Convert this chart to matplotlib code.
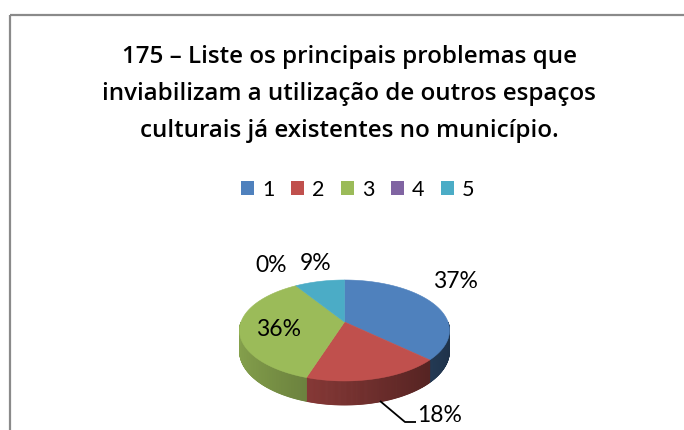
import numpy as np
import matplotlib
matplotlib.use("Agg")
import matplotlib.pyplot as plt
from matplotlib.patches import Polygon, Rectangle
from matplotlib.colors import to_rgb

# ---- data ----
categories = ["1", "2", "3", "4", "5"]
values = [37, 18, 36, 0, 9]
title_lines = ["175 \u2013 Liste os principais problemas que",
               "inviabilizam a utilização de outros espaços",
               "culturais já existentes no município."]
colors = ["#4F81BD", "#C0504D", "#9BBB59", "#8064A2", "#4BACC6"]

# ---- layout (pixel coordinates) ----
W, H = 684, 430
CX, C0 = 344.5, 322.0     # apex of pie
R, A = 103.5, 49.06       # horizontal radius, vertical extent
K = 0.168                 # perspective factor
DEPTH = 20.0
label_pos = [(455, 282), (440, 415), (279, 330), (271, 266), (316, 263)]

fig = plt.figure(figsize=(W / 100, H / 100), dpi=100)
ax = fig.add_axes([0, 0, 1, 1])
ax.set_xlim(0, W)
ax.set_ylim(H, 0)
ax.axis("off")

# chart frame
ax.add_patch(Rectangle((10, 15), 720, 460, fill=False, edgecolor="#8a8a8a", lw=1.6))

# title
title_font = dict(family=["Open Sans", "DejaVu Sans"], fontweight="semibold", fontsize=17.4, color="#000000")
for i, line in enumerate(title_lines):
    ax.text(349, 63 + 37 * i, line, ha="center", va="baseline", **title_font)

# legend
leg_x = [241, 291, 341, 391, 441]
for cat, col, lx in zip(categories, colors, leg_x):
    ax.add_patch(Rectangle((lx, 181), 13, 14, facecolor=col, edgecolor="none"))
    ax.text(lx + 21, 196, cat, ha="left", va="baseline", fontsize=15.5,
            family=["Lato", "DejaVu Sans"], color="#000000")


def proj(theta_deg, r=1.0, down=0.0):
    t = np.radians(theta_deg)
    s = 1.0 / (1.0 + K * np.cos(t))
    x = CX + R * r * np.sin(t) * s
    y = C0 - A * r * np.cos(t) * s + down * s
    return x, y


total = float(sum(values))
bounds = np.concatenate([[0], np.cumsum(values) / total * 360.0])

# side walls (front half: 90..270 deg)
for i, col in enumerate(colors):
    a0, a1 = bounds[i], bounds[i + 1]
    lo, hi = max(a0, 90), min(a1, 270)
    if hi <= lo:
        continue
    base = np.array(to_rgb(col))
    ts = np.linspace(lo, hi, max(2, int((hi - lo) * 2) + 1))
    for t0, t1 in zip(ts[:-1], ts[1:]):
        tm = 0.5 * (t0 + t1)
        f = 0.62 - 0.24 * np.sin(np.radians(tm))
        c = np.clip(base * f, 0, 1)
        xa, ya = proj(t0)
        xb, yb = proj(t1)
        xc, yc = proj(t1, down=DEPTH)
        xd, yd = proj(t0, down=DEPTH)
        ax.add_patch(Polygon([(xa, ya), (xb, yb), (xc, yc), (xd, yd)],
                             closed=True, facecolor=c, edgecolor=c, lw=0.6))

# top faces
for i, col in enumerate(colors):
    a0, a1 = bounds[i], bounds[i + 1]
    if a1 - a0 <= 0:
        continue
    ts = np.linspace(a0, a1, max(3, int(a1 - a0) + 2))
    xs, ys = proj(ts)
    pts = [(CX, C0)] + list(zip(xs, ys))
    ax.add_patch(Polygon(pts, closed=True, facecolor=col, edgecolor=col, lw=0.4))

# data labels
lab_font = dict(family=["Lato", "DejaVu Sans"], fontsize=16.5, color="#000000")
for v, (lx, ly) in zip(values, label_pos):
    ax.text(lx, ly, f"{v}%", ha="center", va="center", **lab_font)

# leader line for the 18% label
ax.plot([380, 405, 416], [401, 422, 422], color="#000000", lw=1.3, solid_capstyle="butt")

fig.savefig("out.png", dpi=100)
